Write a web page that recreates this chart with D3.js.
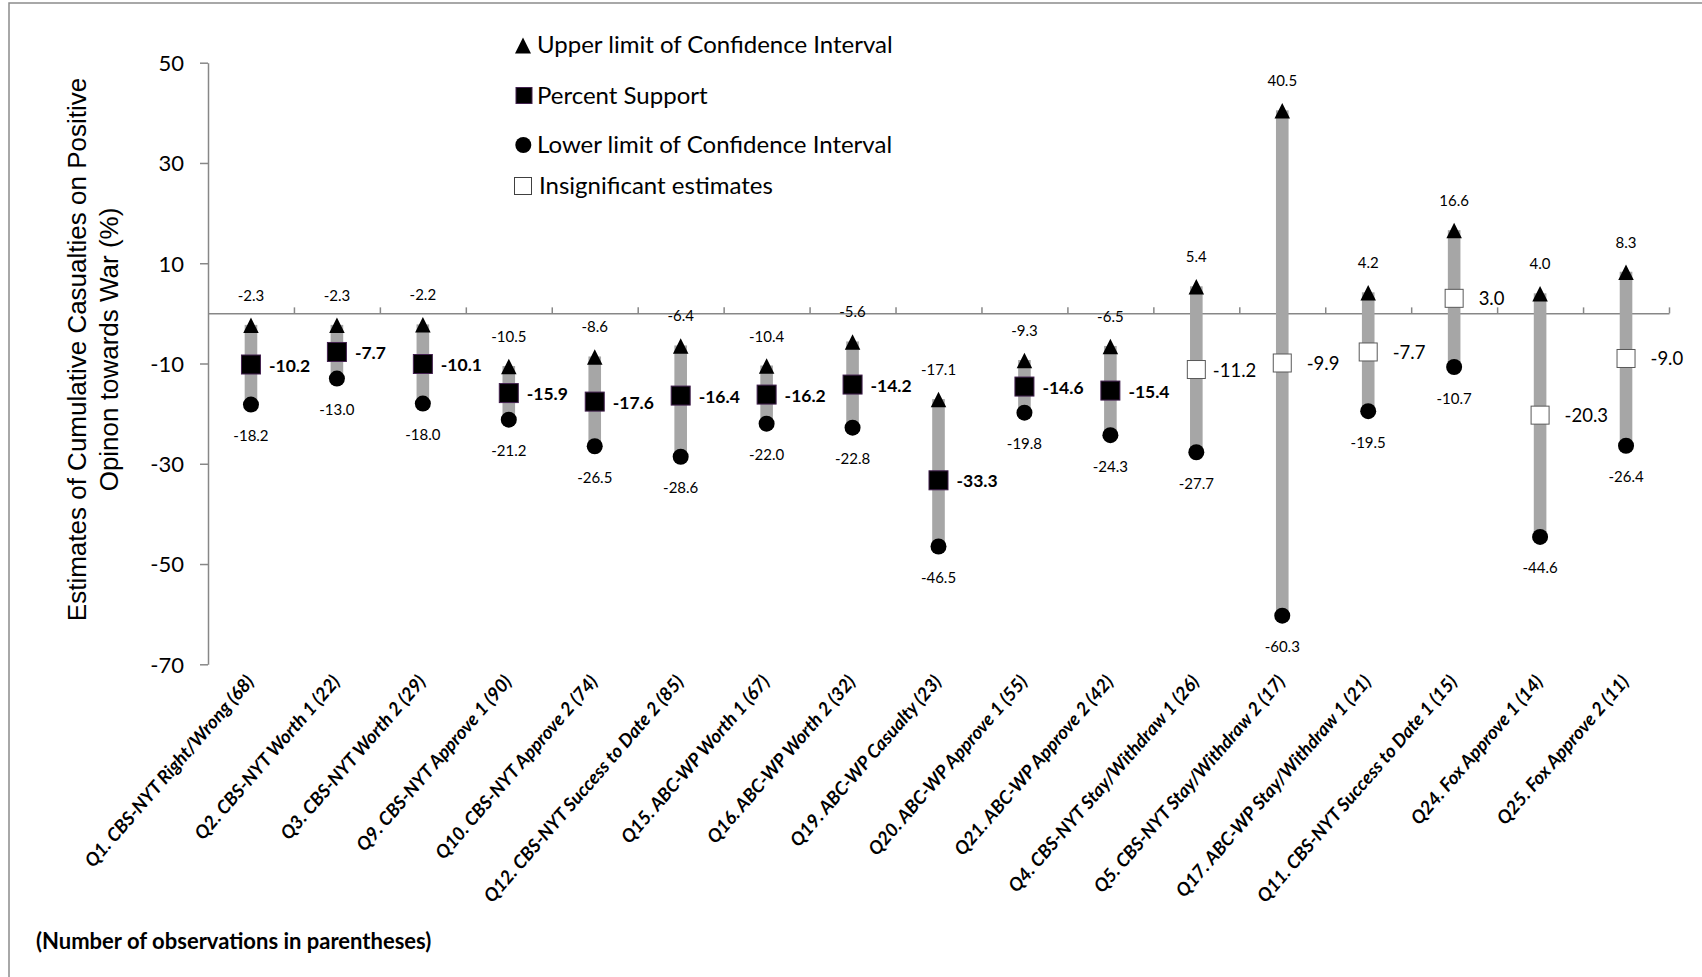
<!DOCTYPE html>
<html>
<head>
<meta charset="utf-8">
<script src="https://cdn.jsdelivr.net/npm/d3@7/dist/d3.min.js"></script>
<style>
  html, body { margin: 0; padding: 0; background: #fff; }
  svg { display: block; }
</style>
</head>
<body>
<svg id="chart" width="1702" height="977"></svg>
<script>
// Survey questions (number of observations in parentheses)
const categories = [
  "Q1. CBS-NYT Right/Wrong (68)",
  "Q2. CBS-NYT Worth 1 (22)",
  "Q3. CBS-NYT Worth 2 (29)",
  "Q9. CBS-NYT Approve 1 (90)",
  "Q10. CBS-NYT Approve 2 (74)",
  "Q12. CBS-NYT Success to Date 2 (85)",
  "Q15. ABC-WP Worth 1 (67)",
  "Q16. ABC-WP Worth 2 (32)",
  "Q19. ABC-WP Casualty (23)",
  "Q20. ABC-WP Approve 1 (55)",
  "Q21. ABC-WP Approve 2 (42)",
  "Q4. CBS-NYT Stay/Withdraw 1 (26)",
  "Q5. CBS-NYT Stay/Withdraw 2 (17)",
  "Q17. ABC-WP Stay/Withdraw 1 (21)",
  "Q11. CBS-NYT Success to Date 1 (15)",
  "Q24. Fox Approve 1 (14)",
  "Q25. Fox Approve 2 (11)"
];
const upperLimit = [-2.3, -2.3, -2.2, -10.5, -8.6, -6.4, -10.4, -5.6, -17.1, -9.3, -6.5, 5.4, 40.5, 4.2, 16.6, 4.0, 8.3];
const estimate   = [-10.2, -7.7, -10.1, -15.9, -17.6, -16.4, -16.2, -14.2, -33.3, -14.6, -15.4, -11.2, -9.9, -7.7, 3.0, -20.3, -9.0];
const lowerLimit = [-18.2, -13.0, -18.0, -21.2, -26.5, -28.6, -22.0, -22.8, -46.5, -19.8, -24.3, -27.7, -60.3, -19.5, -10.7, -44.6, -26.4];
const significant = [true, true, true, true, true, true, true, true, true, true, true, false, false, false, false, false, false];
const yTicks = [50, 30, 10, -10, -30, -50, -70];

const legendItems = [
  { key: "upper", label: "Upper limit of Confidence Interval" },
  { key: "est",   label: "Percent Support" },
  { key: "lower", label: "Lower limit of Confidence Interval" },
  { key: "insig", label: "Insignificant estimates" }
];

const rows = categories.map((c, i) => ({
  cat: c, hi: upperLimit[i], est: estimate[i], lo: lowerLimit[i], sig: significant[i]
}));

// Estimate labels that sit closer to their marker
const estLabelNudge = { "Q4. CBS-NYT Stay/Withdraw 1 (26)": -8 };

const svg = d3.select("#chart");
const CAL = "Lato, 'Open Sans', sans-serif";
const AXIS_COLOR = "#878787";

// Outer chart frame
svg.append("rect")
  .attr("x", 9).attr("y", 3).attr("width", 1760).attr("height", 1060)
  .attr("fill", "none").attr("stroke", "#8c8c8c").attr("stroke-width", 1.5);

const plotLeft = 208, plotRight = 1669, plotTop = 62.7, plotBottom = 664.3;

const y = d3.scaleLinear().domain([-70, 50]).range([plotBottom, plotTop]);
const x = d3.scaleBand().domain(categories).range([plotLeft, plotRight]).padding(0);
const xb = d3.scaleLinear().domain([0, categories.length]).range([plotLeft, plotRight]);
const cx = c => x(c) + x.bandwidth() / 2;
const fmt = v => v.toFixed(1);

// Y axis
const yAxis = svg.append("g")
  .attr("transform", `translate(${plotLeft},0)`)
  .call(d3.axisLeft(y).tickValues(yTicks).tickSize(8).tickSizeOuter(0).tickPadding(16).tickFormat(d => String(d)));
yAxis.select(".domain").attr("stroke", AXIS_COLOR).attr("stroke-width", 1.5);
yAxis.selectAll(".tick line").attr("stroke", AXIS_COLOR).attr("stroke-width", 1.5);
yAxis.selectAll(".tick text")
  .attr("font-family", CAL).attr("font-size", 22).attr("fill", "#000").attr("dy", "0.36em");

// Horizontal category axis at zero, tick marks between categories
const xAxis = svg.append("g")
  .attr("transform", `translate(0,${y(0)})`)
  .call(d3.axisTop(xb).tickValues(d3.range(1, categories.length + 1)).tickSize(6).tickSizeOuter(0).tickFormat(""));
xAxis.select(".domain").attr("stroke", AXIS_COLOR).attr("stroke-width", 1.5);
xAxis.selectAll(".tick line").attr("stroke", AXIS_COLOR).attr("stroke-width", 1.5);

// Category labels, rotated
svg.append("g").selectAll("text")
  .data(categories)
  .join("text")
  .attr("transform", d => `translate(${cx(d) + 4},${plotBottom + 18}) rotate(-49)`)
  .attr("text-anchor", "end")
  .attr("font-family", CAL).attr("font-size", 18.5).attr("font-weight", "bold").attr("font-style", "italic")
  .attr("fill", "#000")
  .text(d => d);

// Confidence interval bars
const g = svg.append("g");
g.selectAll("rect.ci")
  .data(rows)
  .join("rect")
  .attr("class", "ci")
  .attr("x", d => cx(d.cat) - 6.3)
  .attr("width", 12.6)
  .attr("y", d => y(d.hi))
  .attr("height", d => y(d.lo) - y(d.hi))
  .attr("fill", "#a6a6a6");

// Lower limits
g.selectAll("circle.lo")
  .data(rows)
  .join("circle")
  .attr("class", "lo")
  .attr("cx", d => cx(d.cat)).attr("cy", d => y(d.lo)).attr("r", 8)
  .attr("fill", "#000");

// Upper limits
const tri = (s) => `M0,${-0.47 * s}L${s / 2},${0.53 * s}L${-s / 2},${0.53 * s}Z`;
g.selectAll("path.hi")
  .data(rows)
  .join("path")
  .attr("class", "hi")
  .attr("transform", d => `translate(${cx(d.cat)},${y(d.hi)})`)
  .attr("d", tri(15.5))
  .attr("fill", "#000");

// Point estimates
g.selectAll("rect.est")
  .data(rows)
  .join("rect")
  .attr("class", "est")
  .attr("x", d => cx(d.cat) - (d.sig ? 9.5 : 9))
  .attr("y", d => y(d.est) - (d.sig ? 9.5 : 9))
  .attr("width", d => d.sig ? 19 : 18)
  .attr("height", d => d.sig ? 19 : 18)
  .attr("fill", d => d.sig ? "#000" : "#fff")
  .attr("stroke", d => d.sig ? "#43214f" : "#595959")
  .attr("stroke-width", 1);

// Value labels
g.selectAll("text.hi")
  .data(rows)
  .join("text")
  .attr("class", "hi")
  .attr("x", d => cx(d.cat)).attr("y", d => y(d.hi) - 24)
  .attr("text-anchor", "middle")
  .attr("font-family", CAL).attr("font-size", 15).attr("fill", "#000")
  .text(d => fmt(d.hi));
g.selectAll("text.lo")
  .data(rows)
  .join("text")
  .attr("class", "lo")
  .attr("x", d => cx(d.cat)).attr("y", d => y(d.lo) + 36.5)
  .attr("text-anchor", "middle")
  .attr("font-family", CAL).attr("font-size", 15).attr("fill", "#000")
  .text(d => fmt(d.lo));
g.selectAll("text.est")
  .data(rows)
  .join("text")
  .attr("class", "est")
  .attr("x", d => cx(d.cat) + (d.sig ? 18 : 24.5) + (estLabelNudge[d.cat] || 0))
  .attr("y", d => y(d.est) + 7)
  .attr("font-family", CAL)
  .attr("font-size", d => d.sig ? 17.5 : 18.5)
  .attr("font-weight", d => d.sig ? "bold" : "normal")
  .attr("fill", "#000")
  .text(d => fmt(d.est));

// Legend
const legendY = [45, 95.5, 145, 186];
const lg = svg.append("g");
legendItems.forEach((it, i) => {
  const ly = legendY[i];
  if (it.key === "upper") {
    lg.append("path").attr("transform", `translate(523,${ly})`).attr("d", tri(16)).attr("fill", "#000");
  } else if (it.key === "est") {
    lg.append("rect").attr("x", 516).attr("y", ly - 8).attr("width", 16).attr("height", 16)
      .attr("fill", "#000").attr("stroke", "#43214f").attr("stroke-width", 1);
  } else if (it.key === "lower") {
    lg.append("circle").attr("cx", 523.3).attr("cy", ly).attr("r", 8).attr("fill", "#000");
  } else {
    lg.append("rect").attr("x", 514.5).attr("y", ly - 8.5).attr("width", 17).attr("height", 17)
      .attr("fill", "#fff").attr("stroke", "#404040").attr("stroke-width", 1);
  }
  lg.append("text")
    .attr("x", it.key === "insig" ? 539 : 537).attr("y", ly + 8)
    .attr("font-family", CAL).attr("font-size", 24).attr("fill", "#000")
    .text(it.label);
});

// Y axis title
const title = svg.append("text")
  .attr("transform", `translate(86,${(plotTop + plotBottom) / 2 - 14}) rotate(-90)`)
  .attr("text-anchor", "middle")
  .attr("font-family", "'Liberation Sans', Arial, sans-serif").attr("font-size", 26).attr("fill", "#000");
title.append("tspan").attr("x", 0).attr("dy", 0).text("Estimates of Cumulative Casualties on Positive");
title.append("tspan").attr("x", 0).attr("dy", 32).text("Opinon towards War (%)");

// Footnote
svg.append("text")
  .attr("x", 36).attr("y", 949)
  .attr("font-family", CAL).attr("font-size", 22).attr("font-weight", "bold").attr("fill", "#000")
  .text("(Number of observations in parentheses)");
</script>
</body>
</html>
